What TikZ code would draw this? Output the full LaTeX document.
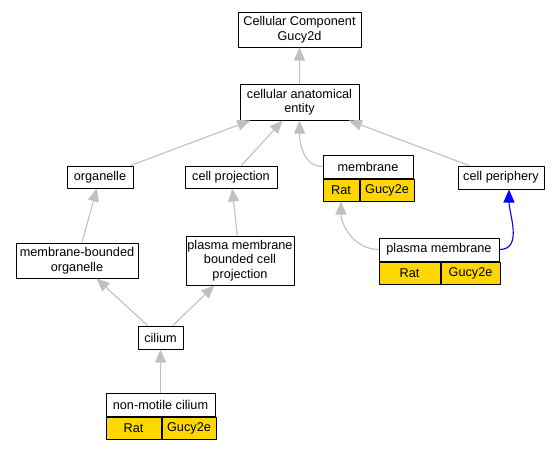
\documentclass[tikz,border=0pt]{standalone}
\usepackage{fontspec}
\setmainfont{Liberation Sans}
\usetikzlibrary{arrows.meta}
\definecolor{edgegray}{RGB}{192,192,192}
\definecolor{cellgold}{RGB}{255,215,0}
\begin{document}
\begin{tikzpicture}[x=1pt, y=-1pt, font=\fontsize{12.7}{14.5}\selectfont, line join=round,
		box/.style={draw, line width=1pt, fill=white, inner sep=0pt, align=center},
		goldcell/.style={box, fill=cellgold, anchor=north west, minimum height=22},
		isa/.style={draw=edgegray, line width=1.1pt, -{Triangle[length=13pt,width=11pt]}},
		>=Latex]
		\useasboundingbox (0,0) rectangle (560,448);
		% terms
		\node[box, minimum width=123, minimum height=35] (cc) at (299.5,29.5) {Cellular Component\\Gucy2d};
		\node[box, minimum width=119, minimum height=36] (cae) at (299.5,102) {cellular anatomical\\entity};
		\node[box, minimum width=66, minimum height=22] (org) at (100,177) {organelle};
		\node[box, minimum width=92, minimum height=22] (cproj) at (231,177) {cell projection};
		\node[box, minimum width=86, minimum height=23] (cperi) at (501,177.5) {cell periphery};
		\node[box, minimum width=122, minimum height=35] (mbo) at (77,260.5) {membrane-bounded\\organelle};
		\node[box, minimum width=108, minimum height=49] (pmbcp) at (240,260.5) {plasma membrane\\bounded cell\\projection};
		\node[box, minimum width=45, minimum height=23] (cil) at (160.5,337.5) {cilium};
		% annotated terms
		\node[box, minimum width=90, minimum height=23] (mem) at (368,166.5) {membrane};
		\node[goldcell, minimum width=36] (memrat) at (mem.south west) {Rat};
		\node[goldcell, minimum width=54] (memgene) at (memrat.north east) {Gucy2e};
		\node[box, minimum width=120, minimum height=23] (pm) at (439,249.5) {plasma membrane};
		\node[goldcell, minimum width=61] (pmrat) at (pm.south west) {Rat};
		\node[goldcell, minimum width=59] (pmgene) at (pmrat.north east) {Gucy2e};
		\node[box, minimum width=109, minimum height=23] (nmc) at (160.5,404.5) {non-motile cilium};
		\node[goldcell, minimum width=55] (nmcrat) at (nmc.south west) {Rat};
		\node[goldcell, minimum width=54] (nmcgene) at (nmcrat.north east) {Gucy2e};
		% is_a edges
		\draw[isa] (cae) -- (cc);
		\draw[isa] (org) -- (cae);
		\draw[isa] (cproj) -- (cae);
		\draw[isa] (cperi) -- (cae);
		\draw[isa] (mem.west) to[out=180, in=-90] (cae.south);
		\draw[isa] (mbo) -- (org);
		\draw[isa] (pmbcp) -- (cproj);
		\draw[isa] (cil) -- (mbo);
		\draw[isa] (cil) -- (pmbcp);
		\draw[isa] (nmc) -- (cil);
		\draw[isa] (pm.west) to[out=180, in=-90] (memrat.south);
		\draw[line width=1.1pt, blue, -{Triangle[length=13pt,width=11pt]}] (pm.east) to[out=0, in=-90] ([xshift=8]cperi.south);
\end{tikzpicture}
\end{document}
